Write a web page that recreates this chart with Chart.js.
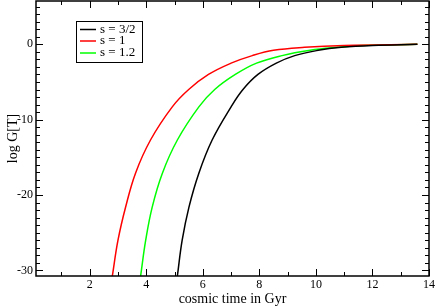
<!DOCTYPE html>
<html>
<head>
<meta charset="utf-8">
<script src="https://cdn.jsdelivr.net/npm/chart.js@4"></script>
<style>
html,body{margin:0;padding:0;background:#fff;}
#wrap{width:436px;height:306px;}
</style>
</head>
<body>
<div id="wrap"><canvas id="c" width="436" height="306"></canvas></div>
<script>
// values (time in Gyr, log G[T])
let logG=[-30.75,-26,-21.6,-17.1,-12.7,-8.3,-6,-4,-2.5,-1.5,-0.8,-0.4,-0.15,0];

let t15=[5.10,5.27,5.51,5.86,6.33,7.00,7.42,7.95,8.60,9.25,10.08,10.90,12.00,13.59];
let t1 =[2.80,3.00,3.27,3.62,4.15,4.92,5.50,6.20,7.00,7.75,8.50,9.60,11.00,13.59];
let t12=[3.80,3.98,4.21,4.57,5.10,5.86,6.42,7.15,7.90,8.80,9.80,10.75,11.60,13.59];

let labels=["s = 3/2","s = 1","s = 1.2"];
let colors=["#000000","#ff0000","#00ff00"];

let xMajor=[2,4,6,8,10,12,14];
let xMinor=[1,3,5,7,9,11,13];
let yMajor=[0,-10,-20,-30];
let yMinor=[5,4,3,2,1,-1,-2,-3,-4,-5,-6,-7,-8,-9,-11,-12,-13,-14,-15,-16,-17,-18,-19,-21,-22,-23,-24,-25,-26,-27,-28,-29];

function pts(t,g){
return t.map(function(v,i){return {x:v,y:g[i]};});
}

let serif="'Liberation Serif','Times New Roman',serif";

let framePlugin={
id:"frame",
afterDraw:function(chart){
let ctx=chart.ctx;
let a=chart.chartArea;
let xs=chart.scales.x;
let ys=chart.scales.y;
ctx.save();
ctx.strokeStyle="#000";
ctx.lineWidth=1;

// ticks on all four sides, pointing inward
ctx.beginPath();
xMajor.forEach(function(v){
let p=Math.round(xs.getPixelForValue(v))+0.5;
ctx.moveTo(p,a.bottom);ctx.lineTo(p,a.bottom-7);
ctx.moveTo(p,a.top);ctx.lineTo(p,a.top+7);
});
xMinor.forEach(function(v){
let p=Math.round(xs.getPixelForValue(v))+0.5;
ctx.moveTo(p,a.bottom);ctx.lineTo(p,a.bottom-4);
ctx.moveTo(p,a.top);ctx.lineTo(p,a.top+4);
});
yMajor.forEach(function(v){
let p=Math.round(ys.getPixelForValue(v))+0.5;
ctx.moveTo(a.left,p);ctx.lineTo(a.left+7,p);
ctx.moveTo(a.right,p);ctx.lineTo(a.right-7,p);
});
yMinor.forEach(function(v){
let p=Math.round(ys.getPixelForValue(v))+0.5;
ctx.moveTo(a.left,p);ctx.lineTo(a.left+4,p);
ctx.moveTo(a.right,p);ctx.lineTo(a.right-4,p);
});
ctx.stroke();

// frame
ctx.lineWidth=1.5;
ctx.strokeRect(a.left,a.top,a.right-a.left,a.bottom-a.top);

// tick labels
ctx.fillStyle="#000";
ctx.font="12px "+serif;
ctx.textAlign="center";
ctx.textBaseline="top";
xMajor.forEach(function(v){
ctx.fillText(String(v),xs.getPixelForValue(v),a.bottom+3);
});
ctx.textAlign="right";
ctx.textBaseline="middle";
yMajor.forEach(function(v){
ctx.fillText(String(v),a.left-3,ys.getPixelForValue(v));
});

// axis titles
ctx.font="14px "+serif;
ctx.textAlign="center";
ctx.textBaseline="alphabetic";
ctx.fillText("cosmic time in Gyr",(a.left+a.right)/2,303);
ctx.save();
ctx.translate(13,(a.top+a.bottom)/2);
ctx.rotate(-Math.PI/2);
ctx.textBaseline="middle";
ctx.fillText("log G[T]",0,0);
ctx.restore();

// legend box
ctx.fillStyle="#fff";
ctx.fillRect(76,21,66,41);
ctx.lineWidth=1;
ctx.strokeStyle="#000";
ctx.strokeRect(76.5,21.5,66,41);
ctx.font="13px "+serif;
ctx.textAlign="left";
ctx.textBaseline="middle";
let rows=[29.5,41,53];
labels.forEach(function(l,i){
ctx.strokeStyle=colors[i];
ctx.lineWidth=1.5;
ctx.beginPath();
ctx.moveTo(80,rows[i]);ctx.lineTo(96,rows[i]);
ctx.stroke();
ctx.fillStyle="#000";
ctx.fillText(l,100,rows[i]);
});
ctx.restore();
}
};

new Chart(document.getElementById("c"),{
type:"scatter",
data:{
datasets:[
{label:labels[0],data:pts(t15,logG),borderColor:colors[0]},
{label:labels[1],data:pts(t1,logG),borderColor:colors[1]},
{label:labels[2],data:pts(t12,logG),borderColor:colors[2]}
].map(function(d){
d.showLine=true;d.pointRadius=0;d.borderWidth=1.5;
d.tension=0.4;d.fill=false;
return d;
})
},
options:{
responsive:false,
animation:false,
layout:{padding:{left:36,right:7,top:1,bottom:30}},
plugins:{legend:{display:false},tooltip:{enabled:false}},
scales:{
x:{type:"linear",min:0.1,max:14,display:false},
y:{type:"linear",min:-30.75,max:5.75,display:false}
}
},
plugins:[framePlugin]
});
</script>
</body>
</html>
